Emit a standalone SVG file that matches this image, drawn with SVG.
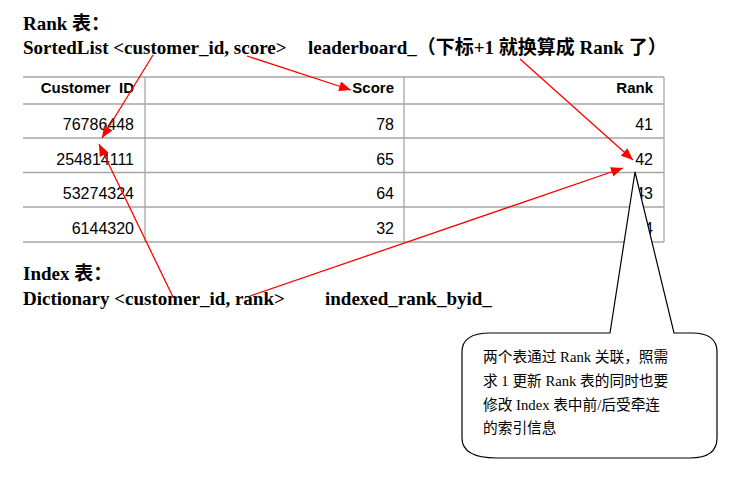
<svg xmlns="http://www.w3.org/2000/svg" width="730" height="483" viewBox="0 0 730 483">
<style>
.h{font-family:"Liberation Serif","Noto Sans CJK SC",serif;font-weight:bold;font-size:19px;fill:#000}
.th{font-family:"Liberation Sans",Arial,sans-serif;font-weight:bold;font-size:15px;fill:#000;text-anchor:end}
.td{font-family:"Liberation Sans",Arial,sans-serif;font-size:16px;fill:#000;text-anchor:end}
.grid{stroke:#a6a6a6;stroke-width:1.3;fill:none}
.arrow{stroke:#ff0000;stroke-width:1.3;fill:none;marker-end:url(#ah)}
.note{font-family:"Liberation Serif","Noto Sans CJK SC",serif;font-size:14.7px;fill:#000}
</style>
<defs>
<marker id="ah" markerUnits="userSpaceOnUse" markerWidth="12" markerHeight="10" refX="12" refY="5" orient="auto">
<path d="M0,0 L12,5 L0,10 z" fill="#ff0000"/>
</marker>
</defs>
<rect width="730" height="483" fill="#ffffff"/>
<g id="rank-title">
<text class="h" x="23" y="30">Rank 表：</text>
<text class="h" x="23" y="54" xml:space="preserve">SortedList &lt;customer_id, score&gt;</text>
<text class="h" x="308" y="54">leaderboard_（下标+1 就换算成 Rank 了）</text>
</g>
<g id="rank-table">
<line class="grid" x1="23" y1="77" x2="664" y2="77"/>
<line class="grid" x1="23" y1="104" x2="664" y2="104"/>
<line class="grid" x1="23" y1="138" x2="664" y2="138"/>
<line class="grid" x1="23" y1="172.5" x2="664" y2="172.5"/>
<line class="grid" x1="23" y1="207" x2="664" y2="207"/>
<line class="grid" x1="23" y1="242" x2="664" y2="242"/>
<line class="grid" x1="145" y1="77" x2="145" y2="242"/>
<line class="grid" x1="404" y1="77" x2="404" y2="242"/>
<line class="grid" x1="664" y1="77" x2="664" y2="242"/>
<text class="th" x="134" y="93" xml:space="preserve">Customer  ID</text>
<text class="th" x="394" y="93">Score</text>
<text class="th" x="653" y="93">Rank</text>
<text class="td" x="134" y="130">76786448</text>
<text class="td" x="394" y="130">78</text>
<text class="td" x="653" y="130">41</text>
<text class="td" x="134" y="165">254814111</text>
<text class="td" x="394" y="165">65</text>
<text class="td" x="653" y="165">42</text>
<text class="td" x="134" y="199">53274324</text>
<text class="td" x="394" y="199">64</text>
<text class="td" x="653" y="199">43</text>
<text class="td" x="134" y="234">6144320</text>
<text class="td" x="394" y="234">32</text>
<text class="td" x="653" y="234">44</text>
</g>
<g id="index-title">
<text class="h" x="23" y="280">Index 表：</text>
<text class="h" x="23" y="305" xml:space="preserve">Dictionary &lt;customer_id, rank&gt;</text>
<text class="h" x="325" y="305">indexed_rank_byid_</text>
</g>
<g id="callout">
<path d="M490,333 L610,333 L635,172 L674,333 L692,333 Q717,333 717,352 L717,438 Q717,458 690,458 L497,458 Q462,458 462,438 L462,352 Q462,333 490,333 Z" fill="#ffffff" stroke="#000000" stroke-width="1.2"/>
<text class="note" x="483" y="362">两个表通过 Rank 关联，照需</text>
<text class="note" x="483" y="386">求 1 更新 Rank 表的同时也要</text>
<text class="note" x="483" y="409.5">修改 Index 表中前/后受牵连</text>
<text class="note" x="483" y="433">的索引信息</text>
</g>
<g id="connectors">
<line class="arrow" x1="153" y1="55" x2="102" y2="138"/>
<line class="arrow" x1="247" y1="56" x2="351" y2="90"/>
<line class="arrow" x1="520" y1="59" x2="633" y2="160"/>
<line class="arrow" x1="173" y1="297" x2="99" y2="144"/>
<line class="arrow" x1="250" y1="296" x2="623" y2="168"/>
</g>
</svg>
